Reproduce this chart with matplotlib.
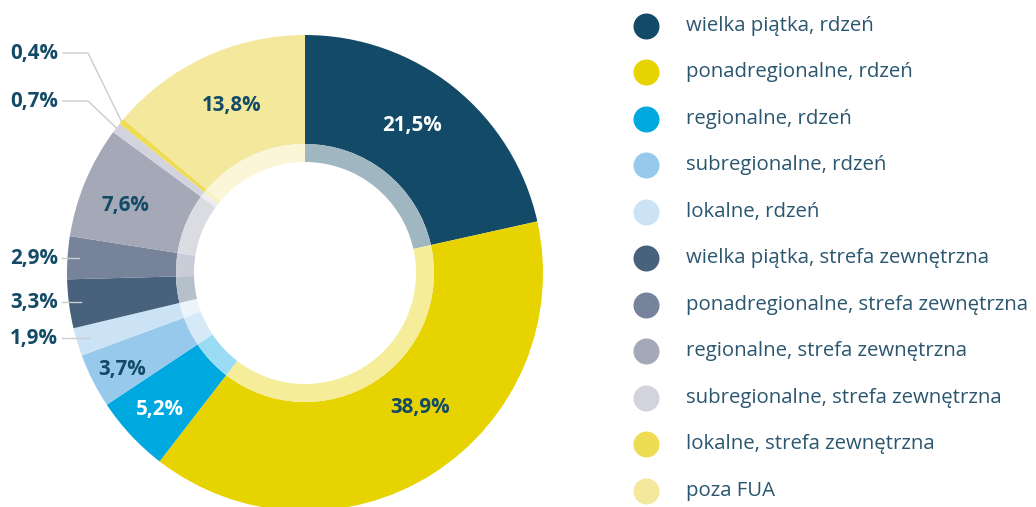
import numpy as np
import matplotlib.pyplot as plt
from matplotlib.colors import to_rgb

# ---------------------------------------------------------------- data ---- #
categories = [
    "wielka piątka, rdzeń",
    "ponadregionalne, rdzeń",
    "regionalne, rdzeń",
    "subregionalne, rdzeń",
    "lokalne, rdzeń",
    "wielka piątka, strefa zewnętrzna",
    "ponadregionalne, strefa zewnętrzna",
    "regionalne, strefa zewnętrzna",
    "subregionalne, strefa zewnętrzna",
    "lokalne, strefa zewnętrzna",
    "poza FUA",
]
shares = [21.5, 38.9, 5.2, 3.7, 1.9, 3.3, 2.9, 7.6, 0.7, 0.4, 13.8]
labels = ["21,5%", "38,9%", "5,2%", "3,7%", "1,9%", "3,3%", "2,9%", "7,6%",
          "0,7%", "0,4%", "13,8%"]

colors = ["#124a67", "#e6d300", "#00a8e0", "#97c9ec", "#cce3f6", "#48627d",
          "#76839b", "#a4a8b7", "#d2d3dc", "#eedc55", "#f3e89c"]

# ------------------------------------------------------------- layout ---- #
W, H = 1036, 507
CX, CY = 305, 273          # pie centre, px from top-left
R_OUT, R_MID, R_IN = 238, 129, 111
TEXT = "#124a67"
LEGEND_TEXT = "#2a566f"
LINE = "#cccccc"
FONT = "Open Sans"

# where each label goes: inside (x, y, color) or outside (handled below)
inside_pos = {
    0: (412, 125, "white"),
    1: (420, 408, TEXT),
    2: (160, 410, "white"),
    3: (122, 370, TEXT),
    7: (125, 205, TEXT),
    10: (232, 106, TEXT),
}
side_labels = [6, 5, 4]          # short horizontal leader on the left
elbow_labels = {9: 53, 8: 101}   # label y for the tiny slices


def py(y):
    return H - y


def tint(c, a=0.4):
    r = np.array(to_rgb(c))
    return tuple(a * r + (1 - a))


fig = plt.figure(figsize=(W / 100, H / 100), dpi=100)
ax = fig.add_axes([0, 0, 1, 1])

ax.pie(shares, colors=colors, radius=R_OUT, center=(CX, py(CY)),
       startangle=90, counterclock=False,
       wedgeprops=dict(width=R_OUT - R_MID, edgecolor="none"))
ax.pie(shares, colors=[tint(c) for c in colors], radius=R_MID,
       center=(CX, py(CY)), startangle=90, counterclock=False,
       wedgeprops=dict(width=R_MID - R_IN, edgecolor="none"))

ax.set_aspect("auto")
ax.set_xlim(0, W)
ax.set_ylim(0, H)
ax.axis("off")

# mid angle of every slice (degrees, matplotlib convention)
cum = np.cumsum([0] + shares[:-1])
total = sum(shares)
mid = 90 - (cum + np.array(shares) / 2) / total * 360


def polar(i, r):
    a = np.deg2rad(mid[i])
    return CX + r * np.cos(a), CY - r * np.sin(a)


lab_kw = dict(fontsize=14.8, fontweight="bold", family=FONT)

for i, (x, y, c) in inside_pos.items():
    ax.text(x, py(y), labels[i], color=c, ha="center", va="center", **lab_kw)

for i in side_labels:
    x_end, y = polar(i, R_OUT - 12)
    ax.plot([62, x_end], [py(y), py(y)], color=LINE, lw=1)
    ax.text(58, py(y), labels[i], color=TEXT, ha="right", va="center",
            **lab_kw)

for i, ly in elbow_labels.items():
    x_end, y_end = polar(i, R_OUT)
    ax.plot([63, 88, x_end], [py(ly), py(ly), py(y_end)], color=LINE, lw=1)
    ax.text(58, py(ly), labels[i], color=TEXT, ha="right", va="center",
            **lab_kw)

# ------------------------------------------------------------- legend ---- #
leg_y0, leg_dy = 25.7, 46.5
for k, (name, c) in enumerate(zip(categories, colors)):
    y = leg_y0 + k * leg_dy
    ax.scatter([645.5], [py(y)], s=26 ** 2 * 0.5184, color=c, lw=0)
    ax.text(686, py(y), name, color=LEGEND_TEXT, ha="left", va="center",
            fontsize=14.7, family=FONT)

fig.savefig("out.png", dpi=100)
